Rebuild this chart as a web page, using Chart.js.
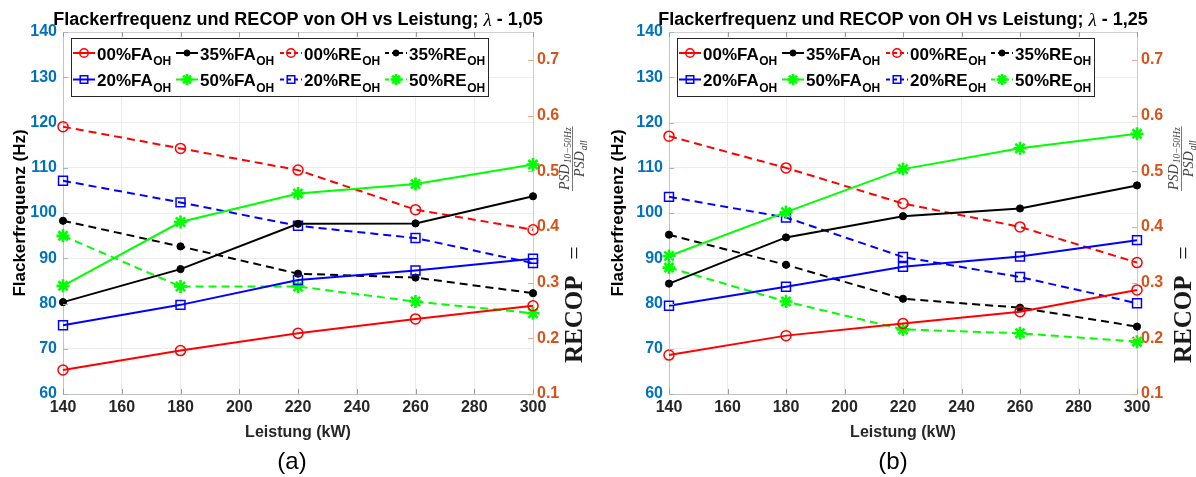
<!DOCTYPE html>
<html><head><meta charset="utf-8">
<script src="https://cdn.jsdelivr.net/npm/chart.js@4.4.1/dist/chart.umd.min.js"></script>
<style>
html,body{margin:0;padding:0;background:#fff;}
#wrap{position:relative;width:1196px;height:477px;overflow:hidden;}
.c{position:absolute;top:0;width:598px;height:477px;}
</style></head><body>
<div id="wrap">
<div class="c" style="left:0"><canvas id="ca" width="598" height="477"></canvas></div>
<div class="c" style="left:598px"><canvas id="cb" width="598" height="477"></canvas></div>
</div>
<script>
// ---- data ----
const power = [140, 180, 220, 260, 300];
const xTicks = [140, 160, 180, 200, 220, 240, 260, 280, 300];
const yLeftTicks = [60, 70, 80, 90, 100, 110, 120, 130, 140];
const yRightTicks = [0.1, 0.2, 0.3, 0.4, 0.5, 0.6, 0.7];
const yRightLabels = ['0.1', '0.2', '0.3', '0.4', '0.5', '0.6', '0.7'];
const seriesLabels = ['00%FA_OH', '20%FA_OH', '35%FA_OH', '50%FA_OH', '00%RE_OH', '20%RE_OH', '35%RE_OH', '50%RE_OH'];
const titleA = 'Flackerfrequenz und RECOP von OH vs Leistung; ';
const lambdaA = '1,05';
const lambdaB = '1,25';

// (a) lambda 1,05
const a_FA00 = [65.3, 69.6, 73.4, 76.6, 79.5];
const a_FA20 = [75.2, 79.7, 85.2, 87.3, 89.9];
const a_FA35 = [80.3, 87.6, 97.6, 97.7, 103.7];
const a_FA50 = [83.9, 98.0, 104.3, 106.4, 110.7];
const a_RE00 = [0.580, 0.541, 0.502, 0.431, 0.395];
const a_RE20 = [0.483, 0.444, 0.402, 0.380, 0.335];
const a_RE35 = [0.411, 0.365, 0.316, 0.309, 0.281];
const a_RE50 = [0.384, 0.293, 0.293, 0.266, 0.245];

// (b) lambda 1,25
const b_FA00 = [68.6, 72.9, 75.6, 78.2, 83.0];
const b_FA20 = [79.5, 83.7, 88.1, 90.4, 94.0];
const b_FA35 = [84.4, 94.6, 99.3, 101.0, 106.1];
const b_FA50 = [90.5, 100.2, 109.7, 114.3, 117.5];
const b_RE00 = [0.563, 0.506, 0.442, 0.400, 0.336];
const b_RE20 = [0.454, 0.417, 0.346, 0.310, 0.263];
const b_RE35 = [0.386, 0.332, 0.271, 0.255, 0.221];
const b_RE50 = [0.327, 0.266, 0.216, 0.209, 0.194];

// ---- styles ----
const SANS = '"Liberation Sans", Arial, sans-serif';
const SERIF = '"Liberation Serif", "Times New Roman", serif';
const colors = ['#ff0000', '#0000ff', '#000000', '#00ff00'];
const marker = [
  {pointStyle: 'circle', radius: 5, fill: false, bw: 1.5},
  {pointStyle: 'rect', radius: 6.3, fill: false, bw: 1.5},
  {pointStyle: 'circle', radius: 3.6, fill: true, bw: 1},
  {pointStyle: 'star', radius: 6.5, fill: true, bw: 2.6}
];

function mkDatasets(fa, re) {
  const out = [];
  const sets = fa.concat(re);
  sets.forEach((vals, i) => {
    const k = i % 4, isRE = i >= 4;
    const m = marker[k];
    out.push({
      label: seriesLabels[i],
      data: power.map((x, j) => ({x: x, y: vals[j]})),
      yAxisID: isRE ? 'y1' : 'y',
      borderColor: colors[k],
      backgroundColor: colors[k],
      borderWidth: 2,
      borderDash: isRE ? [8, 5] : [],
      pointStyle: m.pointStyle,
      pointRadius: m.radius,
      pointHoverRadius: m.radius,
      pointBorderWidth: m.bw,
      pointBorderColor: colors[k],
      pointBackgroundColor: m.fill ? colors[k] : 'rgba(0,0,0,0)',
      tension: 0,
      clip: false
    });
  });
  return out;
}

function drawPointAt(ctx, ds, x, y, r) {
  ctx.save();
  ctx.setLineDash([]);
  ctx.strokeStyle = ds.pointBorderColor;
  ctx.fillStyle = ds.pointBackgroundColor;
  ctx.lineWidth = ds.pointBorderWidth;
  Chart.helpers.drawPoint(ctx, {pointStyle: ds.pointStyle, radius: r, borderWidth: ds.pointBorderWidth, rotation: 0}, x, y);
  ctx.restore();
}

const decoPlugin = {
  id: 'deco',
  afterDraw(chart, args, o) {
    const ctx = chart.ctx, ca = chart.chartArea;
    const xs = chart.scales.x, yl = chart.scales.y, yr = chart.scales.y1;
    ctx.save();
    // box top edge
    ctx.strokeStyle = '#cfcfcf'; ctx.lineWidth = 1;
    ctx.beginPath(); ctx.moveTo(ca.left, ca.top + 0.5); ctx.lineTo(ca.right, ca.top + 0.5); ctx.stroke();
    // inner tick marks
    ctx.strokeStyle = '#9a9a9a';
    xTicks.forEach(v => {
      const px = Math.round(xs.getPixelForValue(v)) + 0.5;
      ctx.beginPath(); ctx.moveTo(px, ca.bottom); ctx.lineTo(px, ca.bottom - 5);
      ctx.moveTo(px, ca.top); ctx.lineTo(px, ca.top + 5); ctx.stroke();
    });
    ctx.strokeStyle = '#8fb8dc';
    yLeftTicks.forEach(v => {
      const py = Math.round(yl.getPixelForValue(v)) + 0.5;
      ctx.beginPath(); ctx.moveTo(ca.left, py); ctx.lineTo(ca.left + 5, py); ctx.stroke();
    });
    ctx.strokeStyle = '#e8a88a';
    yRightTicks.forEach(v => {
      const py = Math.round(yr.getPixelForValue(v)) + 0.5;
      ctx.beginPath(); ctx.moveTo(ca.right, py); ctx.lineTo(ca.right - 5, py); ctx.stroke();
    });

    // title
    const cx = (ca.left + ca.right) / 2, ty = 20;
    const f1 = 'bold 18px ' + SANS, f2 = 'italic 19px ' + SERIF;
    const p3 = ' - ' + o.lam;
    ctx.font = f1; const w1 = ctx.measureText(titleA).width, w3 = ctx.measureText(p3).width;
    ctx.font = f2; const w2 = ctx.measureText('λ').width;
    let tx = cx - (w1 + w2 + w3) / 2;
    ctx.fillStyle = '#000'; ctx.textBaseline = 'middle'; ctx.textAlign = 'left';
    ctx.font = f1; ctx.fillText(titleA, tx, ty); tx += w1;
    ctx.font = f2; ctx.fillText('λ', tx, ty + 0.5); tx += w2;
    ctx.font = f1; ctx.fillText(p3, tx, ty);

    // legend
    const lx = ca.left + 8, ly = 38, lw = 417, lh = 58;
    ctx.fillStyle = '#fff'; ctx.fillRect(lx, ly, lw, lh);
    ctx.strokeStyle = '#262626'; ctx.lineWidth = 1;
    ctx.strokeRect(lx + 0.5, ly + 0.5, lw, lh);
    const colX = [2, 105, 209, 314], rowY = [15, 41.5];
    chart.data.datasets.forEach((ds, i) => {
      const col = Math.floor(i / 2), row = i % 2;
      const sx = lx + colX[col], sy = ly + rowY[row];
      ctx.save();
      ctx.strokeStyle = ds.borderColor; ctx.lineWidth = 2;
      ctx.setLineDash(ds.borderDash.length ? [4, 3] : []);
      ctx.beginPath(); ctx.moveTo(sx, sy); ctx.lineTo(sx + 22, sy); ctx.stroke();
      ctx.restore();
      drawPointAt(ctx, ds, sx + 11, sy, ds.pointRadius * 0.85);
      const parts = ds.label.split('_');
      ctx.fillStyle = '#000'; ctx.textBaseline = 'alphabetic'; ctx.textAlign = 'left';
      ctx.font = 'bold 17px ' + SANS;
      ctx.fillText(parts[0], sx + 24, sy + 6.5);
      const mw = ctx.measureText(parts[0]).width;
      ctx.font = 'bold 12px ' + SANS;
      ctx.fillText(parts[1], sx + 24 + mw + 0.5, sy + 12);
    });

    // right axis title: RECOP = PSD_{10-50Hz}/PSD_{all}
    ctx.save();
    ctx.translate(o.rx, 365);
    ctx.rotate(-Math.PI / 2);
    ctx.fillStyle = '#1a1a1a'; ctx.textBaseline = 'alphabetic'; ctx.textAlign = 'left';
    ctx.font = 'bold 25px ' + SERIF;
    ctx.fillText('RECOP', 2, 0);
    ctx.font = '24px ' + SERIF;
    ctx.textAlign = 'center';
    ctx.fillText('=', 112, 0);
    ctx.textAlign = 'left';
    // fraction
    const num = ['PSD', '10\u221250Hz'], den = ['PSD', 'all'];
    ctx.font = 'italic 14px ' + SERIF;
    const nw0 = ctx.measureText(num[0]).width, dw0 = ctx.measureText(den[0]).width;
    ctx.font = 'italic 9.5px ' + SERIF;
    const nw1 = ctx.measureText(num[1]).width, dw1 = ctx.measureText(den[1]).width;
    const nw = nw0 + nw1 + 1, dw = dw0 + dw1 + 1, fw = Math.max(nw, dw) + 2;
    const px = 174;
    ctx.fillStyle = '#444';
    let nx = px + (fw - nw) / 2;
    ctx.font = 'italic 14px ' + SERIF; ctx.fillText(num[0], nx, -13.5);
    ctx.font = 'italic 9.5px ' + SERIF; ctx.fillText(num[1], nx + nw0 + 1, -11);
    let dx = px + (fw - dw) / 2;
    ctx.font = 'italic 14px ' + SERIF; ctx.fillText(den[0], dx, 2);
    ctx.font = 'italic 9.5px ' + SERIF; ctx.fillText(den[1], dx + dw0 + 1, 4.5);
    ctx.strokeStyle = '#555'; ctx.lineWidth = 0.8;
    ctx.beginPath(); ctx.moveTo(px, -9.5); ctx.lineTo(px + fw, -9.5); ctx.stroke();
    ctx.restore();

    // sub-figure label
    ctx.fillStyle = '#000'; ctx.font = '24px ' + SANS; ctx.textAlign = 'center'; ctx.textBaseline = 'middle';
    ctx.fillText(o.tag, o.tagX, 462);
    ctx.restore();
  }
};

function makeChart(id, fa, re, L, R, lam, tag, tagX, rx) {
  return new Chart(document.getElementById(id), {
    type: 'line',
    data: {datasets: mkDatasets(fa, re)},
    plugins: [decoPlugin],
    options: {
      responsive: false,
      animation: false,
      events: [],
      layout: {padding: {top: 32, left: 0, right: 0, bottom: 0}},
      plugins: {
        legend: {display: false},
        title: {display: false},
        tooltip: {enabled: false},
        deco: {lam: lam, tag: tag, tagX: tagX, rx: rx}
      },
      scales: {
        x: {
          type: 'linear', min: 140, max: 300,
          afterBuildTicks: s => { s.ticks = xTicks.map(v => ({value: v})); },
          afterFit: s => { s.height = 83; },
          grid: {color: '#ececec', lineWidth: 1, drawTicks: false},
          border: {color: '#c4c4c4', width: 1},
          ticks: {color: '#262626', font: {family: SANS, size: 16, weight: 'bold'}, padding: 4, maxRotation: 0, autoSkip: false},
          title: {display: true, text: 'Leistung (kW)', color: '#262626', font: {family: SANS, size: 16, weight: 'bold'}, padding: {top: 0, bottom: 35}}
        },
        y: {
          type: 'linear', position: 'left', min: 60, max: 140,
          afterBuildTicks: s => { s.ticks = yLeftTicks.map(v => ({value: v})); },
          afterFit: s => { s.width = L; },
          grid: {color: '#ececec', lineWidth: 1, drawTicks: false},
          border: {color: '#a9cbe8', width: 1},
          ticks: {color: '#0072BD', font: {family: SANS, size: 16, weight: 'bold'}, padding: 6, autoSkip: false},
          title: {display: true, text: 'Flackerfrequenz (Hz)', color: '#000', font: {family: SANS, size: 17, weight: 'bold'}, padding: {top: 10, bottom: 0}}
        },
        y1: {
          type: 'linear', position: 'right', min: 0.1, max: 0.75,
          afterBuildTicks: s => { s.ticks = yRightTicks.map(v => ({value: v})); },
          afterFit: s => { s.width = R; },
          grid: {display: false, drawTicks: false},
          border: {color: '#f0c0aa', width: 1},
          ticks: {color: '#D95319', font: {family: SANS, size: 16, weight: 'bold'}, padding: 4, autoSkip: false,
            callback: (v, i) => yRightLabels[i]}
        }
      }
    }
  });
}

makeChart('ca', [a_FA00, a_FA20, a_FA35, a_FA50], [a_RE00, a_RE20, a_RE35, a_RE50], 63, 65, lambdaA, '(a)', 292, 582);
makeChart('cb', [b_FA00, b_FA20, b_FA35, b_FA50], [b_RE00, b_RE20, b_RE35, b_RE50], 71, 59, lambdaB, '(b)', 295, 593);
</script>
</body></html>
